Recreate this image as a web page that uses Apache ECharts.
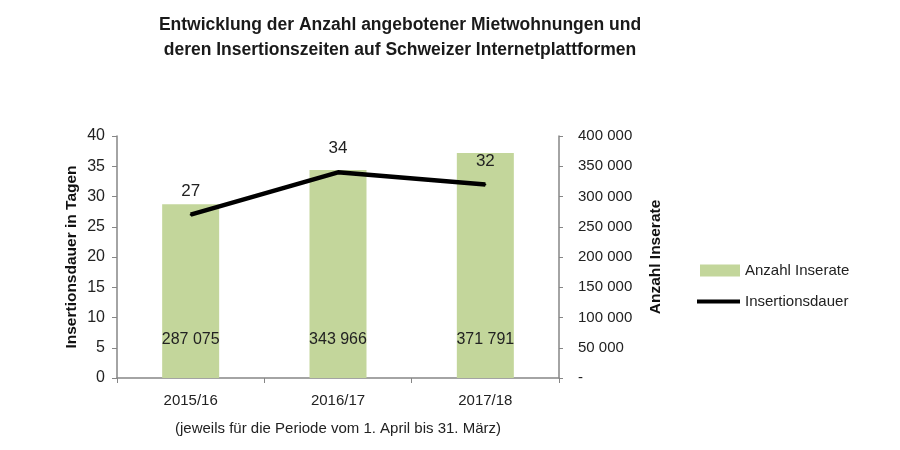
<!DOCTYPE html>
<html><head><meta charset="utf-8">
<script src="https://cdn.jsdelivr.net/npm/echarts@6/dist/echarts.min.js"></script>
<style>html,body{margin:0;padding:0;background:#fff}#c{width:900px;height:450px}</style>
</head><body><div id="c"></div>
<script>
const categories = ['2015/16', '2016/17', '2017/18'];
const anzahlInserate = [287075, 343966, 371791];
const insertionsdauer = [27, 34, 32];
const leftTicks = [0, 5, 10, 15, 20, 25, 30, 35, 40];
const rightTicks = [0, 50000, 100000, 150000, 200000, 250000, 300000, 350000, 400000];

function fmt(v){ if(v===0) return '-'; return String(v).replace(/\B(?=(\d{3})+(?!\d))/g,' '); }
const FONT = 'Liberation Sans, Arial, sans-serif';
const chart = echarts.init(document.getElementById('c'));
chart.setOption({
  backgroundColor:'#fff',
  animation:false,
  textStyle:{fontFamily:FONT},
  title:{
    text:'Entwicklung der Anzahl angebotener Mietwohnungen und\nderen Insertionszeiten auf Schweizer Internetplattformen',
    left:395, top:8, textAlign:'center',
    textStyle:{fontFamily:FONT, fontSize:17.5, fontWeight:'bold', color:'#1a1a1a', lineHeight:25}
  },
  legend:[
    {orient:'vertical', left:700, top:263, padding:0, itemWidth:40, itemHeight:12, itemGap:6,
     textStyle:{fontFamily:FONT, fontSize:15, color:'#222'},
     data:[{name:'Anzahl Inserate', icon:'rect'}]},
    {orient:'vertical', left:697, top:294, padding:0, itemWidth:43, itemHeight:4, itemGap:6,
     textStyle:{fontFamily:FONT, fontSize:15, color:'#222'},
     data:[{name:'Insertionsdauer', icon:'rect', itemStyle:{color:'#000', opacity:1}}]}
  ],
  grid:{left:117, right:341, top:136, bottom:72},
  xAxis:{
    type:'category', data:categories, boundaryGap:true,
    axisLine:{lineStyle:{color:'#868686', width:1.5}},
    axisTick:{show:true, alignWithLabel:false, length:5, lineStyle:{color:'#868686'}},
    axisLabel:{fontFamily:FONT, fontSize:15, color:'#222', margin:15},
    name:'(jeweils für die Periode vom 1. April bis 31. März)',
    nameLocation:'middle', nameGap:43,
    nameTextStyle:{fontFamily:FONT, fontSize:15, color:'#222'}
  },
  yAxis:[
    {type:'value', min:0, max:40, interval:5, position:'left',
     axisLine:{show:true, lineStyle:{color:'#868686', width:1.5}},
     axisTick:{show:true, inside:false, length:5, lineStyle:{color:'#868686'}},
     axisLabel:{fontFamily:FONT, fontSize:16, color:'#222', margin:12},
     splitLine:{show:false},
     name:'Insertionsdauer in Tagen', nameLocation:'middle', nameGap:37, nameRotate:90,
     nameTextStyle:{fontFamily:FONT, fontSize:15.5, fontWeight:'bold', color:'#111'}},
    {type:'value', min:0, max:400000, interval:50000, position:'right', offset:0,
     axisLine:{show:true, lineStyle:{color:'#868686', width:1.5}},
     axisTick:{show:true, inside:false, length:4, lineStyle:{color:'#868686'}},
     axisLabel:{fontFamily:FONT, fontSize:15, color:'#222', margin:19, formatter:fmt},
     splitLine:{show:false},
     name:'Anzahl Inserate', nameLocation:'middle', nameGap:89, nameRotate:90,
     nameTextStyle:{fontFamily:FONT, fontSize:15.5, fontWeight:'bold', color:'#111'}}
  ],
  series:[
    {name:'Anzahl Inserate', type:'bar', yAxisIndex:1, data:anzahlInserate, barWidth:57,
     itemStyle:{color:'#c3d69b'},
     label:{show:true, position:'insideBottom', distance:30, formatter:p=>fmt(p.value),
            fontFamily:FONT, fontSize:16, color:'#222'}},
    {name:'Insertionsdauer', type:'line', yAxisIndex:0, data:insertionsdauer,
     symbol:'circle', symbolSize:2, showSymbol:true,
     lineStyle:{color:'#000', width:4.5}, itemStyle:{color:'#000'},
     label:{show:true, position:'top', distance:14, fontFamily:FONT, fontSize:17, color:'#222'}}
  ]
});
</script></body></html>
